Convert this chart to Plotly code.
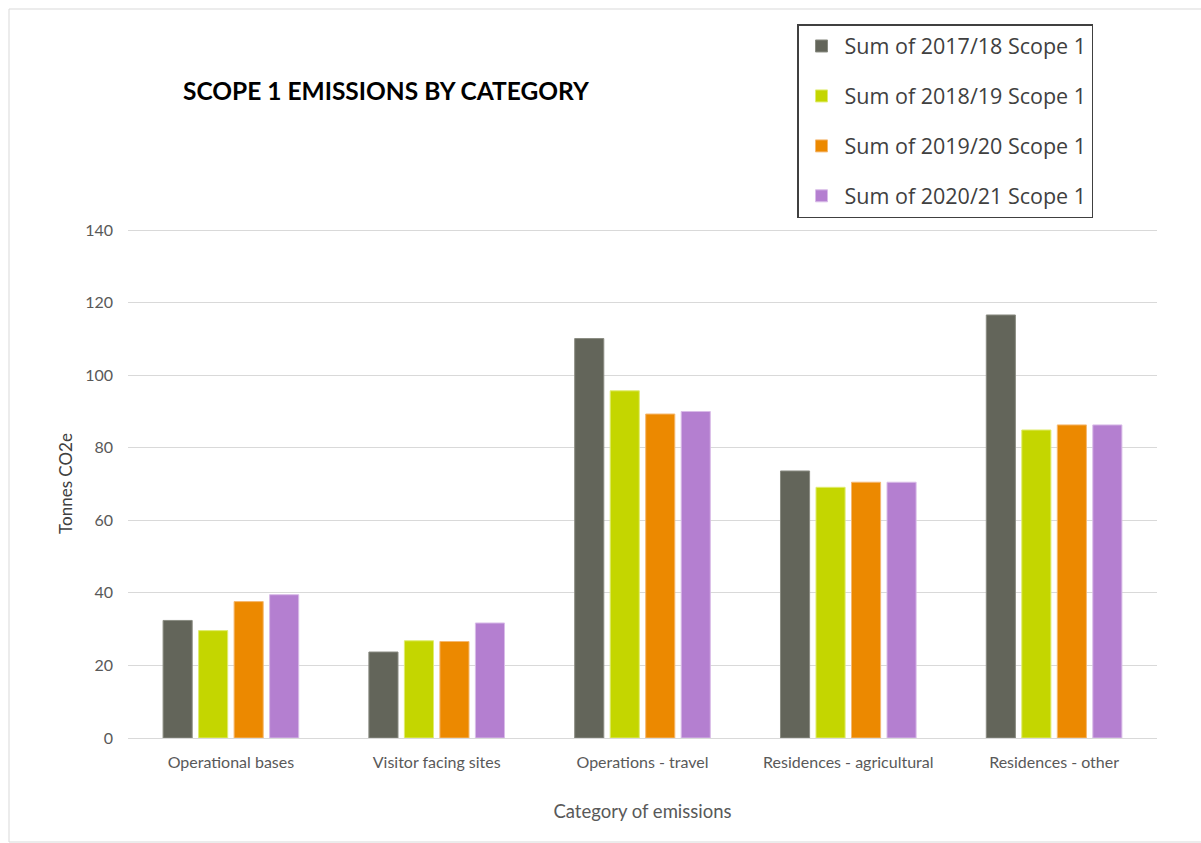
import plotly.graph_objects as go

categories = ["Operational bases", "Visitor facing sites", "Operations - travel",
              "Residences - agricultural", "Residences - other"]
series_names = ["Sum of 2017/18 Scope 1", "Sum of 2018/19 Scope 1",
                "Sum of 2019/20 Scope 1", "Sum of 2020/21 Scope 1"]
v_2017_18 = [32.4, 23.7, 110.1, 73.6, 116.6]
v_2018_19 = [29.6, 26.8, 95.7, 69.1, 84.9]
v_2019_20 = [37.6, 26.6, 89.3, 70.5, 86.3]
v_2020_21 = [39.5, 31.7, 90.0, 70.5, 86.3]
y_ticks = [0, 20, 40, 60, 80, 100, 120, 140]

colors = ["#63655A", "#C4D600", "#EC8900", "#B47FD0"]
outline = ["#8A8C82", "#E0EC70", "#F5B870", "#D9BCE8"]
all_values = [v_2017_18, v_2018_19, v_2019_20, v_2020_21]

fig = go.Figure()
for i, (name, vals) in enumerate(zip(series_names, all_values)):
    fig.add_trace(go.Bar(
        x=categories, y=vals, name=name, legendgroup=f"g{i}",
        marker=dict(color=colors[i], line=dict(color=outline[i], width=1)),
    ))

L, R, T, B = 128, 44, 229, 105
W, H = 1201, 843
pw, ph = W - L - R, H - T - B
YMAX = 140.3

def px_x(p):
    return (p - L) / pw

def px_y(p):
    return (H - B - p) / ph

fig.update_layout(
    width=W, height=H,
    margin=dict(l=L, r=R, t=T, b=B),
    paper_bgcolor="white", plot_bgcolor="white",
    barmode="group", bargap=0.31, bargroupgap=0.18,
    font=dict(family="Lato, Liberation Sans, sans-serif", color="#595959"),
    showlegend=True,
    legend=dict(
        x=px_x(797), y=px_y(24), xanchor="left", yanchor="top",
        bordercolor="#404040", borderwidth=1.5, bgcolor="white",
        font=dict(family="Open Sans, Noto Sans, sans-serif", size=21.5, color="#404040"),
        tracegroupgap=19, itemwidth=36,
    ),
    xaxis=dict(
        showgrid=False, showline=True, linecolor="#D9D9D9", linewidth=1,
        ticks="", tickfont=dict(size=16, color="#595959"), ticklabelstandoff=10,
        title=dict(text="Category of emissions", font=dict(size=18.5, color="#595959"), standoff=34),
    ),
    yaxis=dict(
        range=[0, YMAX], tickvals=y_ticks, showgrid=True, gridcolor="#D9D9D9", gridwidth=1,
        zeroline=False, showline=False, ticks="",
        tickfont=dict(size=16, color="#595959"), ticklabelstandoff=14,
        title=dict(text="Tonnes CO2e", font=dict(size=17, color="#404040"), standoff=8),
    ),
    annotations=[dict(
        text="<b>SCOPE 1 EMISSIONS BY CATEGORY</b>", xref="paper", yref="paper",
        x=px_x(181), y=px_y(90), xanchor="left", yanchor="middle", showarrow=False,
        font=dict(family="Lato, Liberation Sans, sans-serif", size=24.5, color="#000000"),
    )],
    shapes=[dict(
        type="rect", xref="paper", yref="paper",
        x0=px_x(9), x1=px_x(1215), y0=px_y(842), y1=px_y(9),
        line=dict(color="#D9D9D9", width=1), layer="below",
    )],
)

fig.write_html("out.html")
